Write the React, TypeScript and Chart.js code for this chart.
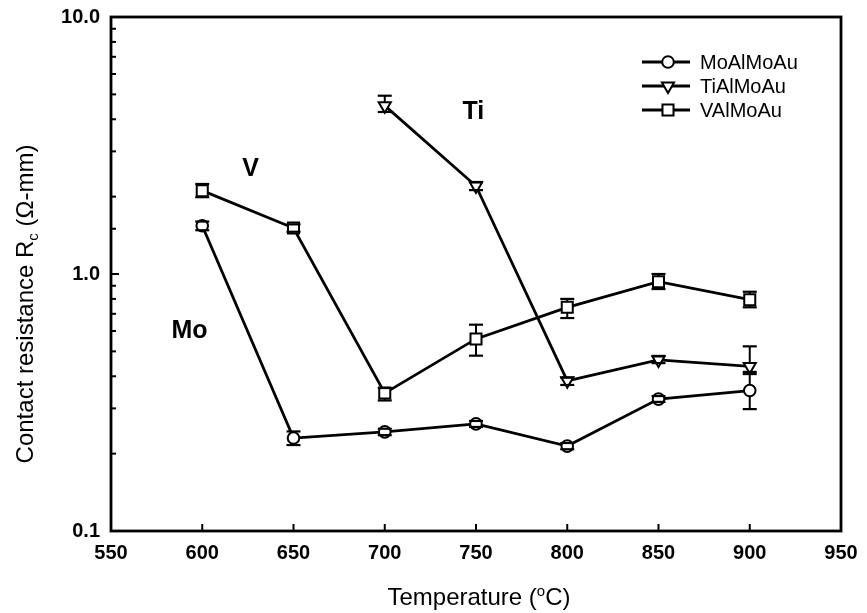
import React, { useEffect, useRef } from 'react';
import { Chart, registerables } from 'chart.js';

Chart.register(...registerables);

// ---- data ----
const TEMPS = [600, 650, 700, 750, 800, 850, 900];
const SERIES_NAMES = ['MoAlMoAu', 'TiAlMoAu', 'VAlMoAu'];

const MO = [1.54, 0.23, 0.243, 0.261, 0.214, 0.326, 0.352];
const MO_HI = [1.6, 0.244, 0.25, 0.268, 0.22, 0.335, 0.416];
const MO_LO = [1.48, 0.216, 0.236, 0.254, 0.208, 0.318, 0.298];

const TI = [null, null, 4.52, 2.2, 0.384, 0.463, 0.437];
const TI_HI = [null, null, 4.94, 2.28, 0.395, 0.48, 0.523];
const TI_LO = [null, null, 4.27, 2.12, 0.37, 0.45, 0.408];

const V = [2.11, 1.51, 0.344, 0.559, 0.742, 0.933, 0.794];
const V_HI = [2.24, 1.56, 0.36, 0.635, 0.8, 1.0, 0.853];
const V_LO = [1.99, 1.46, 0.322, 0.481, 0.674, 0.874, 0.742];

const X_MIN = 550;
const X_MAX = 950;
const X_STEP = 50;
const Y_MIN = 0.1;
const Y_MAX = 10;

const X_TITLE = ['Temperature (', 'o', 'C)'];
const Y_TITLE = ['Contact resistance R', 'c', ' (Ω-mm)'];

const ANNOTATION_TEXT = ['Mo', 'V', 'Ti'];
const ANNOTATION_X = [593, 626.5, 748.5];
const ANNOTATION_Y = [0.6, 2.56, 4.27];

const FONT = '"Liberation Sans", Arial, Helvetica, sans-serif';

type Pt = { x: number; y: number };
const toPoints = (vals: (number | null)[]): Pt[] =>
  TEMPS.map((t, i) => (vals[i] == null ? null : { x: t, y: vals[i] as number })).filter(
    (p): p is Pt => p !== null
  );

const ERRORS: [(number | null)[], (number | null)[], (number | null)[]][] = [
  [MO, MO_LO, MO_HI],
  [TI, TI_LO, TI_HI],
  [V, V_LO, V_HI],
];

const MARKERS = ['circle', 'triangle', 'rect'];

function drawMarker(ctx: CanvasRenderingContext2D, kind: string, x: number, y: number) {
  ctx.save();
  ctx.fillStyle = '#fff';
  ctx.strokeStyle = '#000';
  ctx.lineWidth = 2;
  ctx.beginPath();
  if (kind === 'circle') {
    ctx.arc(x, y, 5.8, 0, Math.PI * 2);
  } else if (kind === 'triangle') {
    const r = 7;
    for (let k = 0; k < 3; k++) {
      const a = Math.PI + (k * 2 * Math.PI) / 3;
      const px = x + Math.sin(a) * r;
      const py = y - Math.cos(a) * r;
      if (k === 0) ctx.moveTo(px, py);
      else ctx.lineTo(px, py);
    }
    ctx.closePath();
  } else {
    const s = 7.8 * Math.SQRT1_2;
    ctx.rect(x - s, y - s, 2 * s, 2 * s);
  }
  ctx.fill();
  ctx.stroke();
  ctx.restore();
}

const framePlugin = {
  id: 'framePlugin',
  beforeDatasetsDraw(chart: any) {
    const ctx: CanvasRenderingContext2D = chart.ctx;
    const xs = chart.scales.x;
    const ys = chart.scales.y;
    ctx.save();
    ctx.strokeStyle = '#000';
    ctx.lineWidth = 2;
    ERRORS.forEach(([vals, lo, hi]) => {
      TEMPS.forEach((t, i) => {
        if (vals[i] == null) return;
        const px = xs.getPixelForValue(t);
        ctx.beginPath();
        ctx.moveTo(px, ys.getPixelForValue(hi[i] as number));
        ctx.lineTo(px, ys.getPixelForValue(lo[i] as number));
        ctx.stroke();
      });
    });
    ctx.restore();
  },
  afterDatasetsDraw(chart: any) {
    const ctx: CanvasRenderingContext2D = chart.ctx;
    const xs = chart.scales.x;
    const ys = chart.scales.y;
    const area = chart.chartArea;

    // error caps
    ctx.save();
    ctx.strokeStyle = '#000';
    ctx.lineWidth = 2.2;
    ERRORS.forEach(([vals, lo, hi]) => {
      TEMPS.forEach((t, i) => {
        if (vals[i] == null) return;
        const px = xs.getPixelForValue(t);
        [hi[i], lo[i]].forEach((v) => {
          const py = ys.getPixelForValue(v as number);
          ctx.beginPath();
          ctx.moveTo(px - 7, py);
          ctx.lineTo(px + 7, py);
          ctx.stroke();
        });
      });
    });
    ctx.restore();

    // frame
    ctx.save();
    ctx.strokeStyle = '#000';
    ctx.lineWidth = 2.8;
    ctx.strokeRect(area.left, area.top, area.right - area.left, area.bottom - area.top);

    // x ticks (inward)
    ctx.lineWidth = 2;
    xs.ticks.forEach((tk: any) => {
      const px = xs.getPixelForValue(tk.value);
      ctx.beginPath();
      ctx.moveTo(px, area.bottom);
      ctx.lineTo(px, area.bottom - 7);
      ctx.stroke();
    });
    // y ticks (inward)
    ys.ticks.forEach((tk: any) => {
      const py = ys.getPixelForValue(tk.value);
      const l = Math.log10(tk.value);
      const major = Math.abs(l - Math.round(l)) < 1e-6;
      ctx.beginPath();
      ctx.moveTo(area.left, py);
      ctx.lineTo(area.left + (major ? 8 : 5), py);
      ctx.stroke();
    });
    ctx.restore();

    // legend
    ctx.save();
    const lx0 = area.right - 199;
    const lx1 = area.right - 151;
    const lmx = area.right - 173;
    const ltx = area.right - 141;
    SERIES_NAMES.forEach((name, i) => {
      const y = area.top + 45 + i * 24;
      ctx.strokeStyle = '#000';
      ctx.lineWidth = 2.8;
      ctx.beginPath();
      ctx.moveTo(lx0, y);
      ctx.lineTo(lx1, y);
      ctx.stroke();
      drawMarker(ctx, MARKERS[i], lmx, y);
      ctx.fillStyle = '#000';
      ctx.font = `20px ${FONT}`;
      ctx.textAlign = 'left';
      ctx.textBaseline = 'middle';
      ctx.fillText(name, ltx, y + 1);
    });
    ctx.restore();

    // annotations
    ctx.save();
    ctx.fillStyle = '#000';
    ctx.font = `bold 25px ${FONT}`;
    ctx.textAlign = 'center';
    ctx.textBaseline = 'middle';
    ANNOTATION_TEXT.forEach((txt, i) => {
      ctx.fillText(txt, xs.getPixelForValue(ANNOTATION_X[i]), ys.getPixelForValue(ANNOTATION_Y[i]));
    });
    ctx.restore();

    // x title with superscript
    ctx.save();
    ctx.fillStyle = '#000';
    ctx.textBaseline = 'alphabetic';
    ctx.textAlign = 'left';
    const big = `24px ${FONT}`;
    const small = `15px ${FONT}`;
    ctx.font = big;
    const w0 = ctx.measureText(X_TITLE[0]).width;
    const w2 = ctx.measureText(X_TITLE[2]).width;
    ctx.font = small;
    const w1 = ctx.measureText(X_TITLE[1]).width;
    const total = w0 + w1 + w2;
    const cx = (area.left + area.right) / 2 + 3;
    let x = cx - total / 2;
    const by = area.bottom + 74;
    ctx.font = big;
    ctx.fillText(X_TITLE[0], x, by);
    x += w0;
    ctx.font = small;
    ctx.fillText(X_TITLE[1], x, by - 9);
    x += w1;
    ctx.font = big;
    ctx.fillText(X_TITLE[2], x, by);
    ctx.restore();

    // y title with subscript (rotated)
    ctx.save();
    ctx.fillStyle = '#000';
    ctx.translate(33, (area.top + area.bottom) / 2 + 30);
    ctx.rotate(-Math.PI / 2);
    ctx.textBaseline = 'alphabetic';
    ctx.textAlign = 'left';
    ctx.font = big;
    const v0 = ctx.measureText(Y_TITLE[0]).width;
    const v2 = ctx.measureText(Y_TITLE[2]).width;
    ctx.font = small;
    const v1 = ctx.measureText(Y_TITLE[1]).width;
    let yx = -(v0 + v1 + v2) / 2;
    ctx.font = big;
    ctx.fillText(Y_TITLE[0], yx, 0);
    yx += v0;
    ctx.font = small;
    ctx.fillText(Y_TITLE[1], yx, 5);
    yx += v1;
    ctx.font = big;
    ctx.fillText(Y_TITLE[2], yx, 0);
    ctx.restore();
  },
};

export default function App() {
  const ref = useRef<HTMLCanvasElement>(null);
  useEffect(() => {
    document.body.style.margin = '0';
    const canvas = ref.current;
    if (!canvas) return;
    const lineStyle = {
      borderColor: '#000',
      borderWidth: 2.8,
      pointBackgroundColor: '#fff',
      pointBorderColor: '#000',
      pointBorderWidth: 2,
      tension: 0,
      fill: false,
    };
    const chart = new Chart(canvas, {
      type: 'line',
      data: {
        datasets: [
          { ...lineStyle, label: SERIES_NAMES[0], data: toPoints(MO), pointStyle: 'circle', pointRadius: 5.8 },
          { ...lineStyle, label: SERIES_NAMES[1], data: toPoints(TI), pointStyle: 'triangle', pointRotation: 180, pointRadius: 7 },
          { ...lineStyle, label: SERIES_NAMES[2], data: toPoints(V), pointStyle: 'rect', pointRadius: 7.8 },
        ] as any,
      },
      options: {
        responsive: false,
        animation: false,
        maintainAspectRatio: false,
        layout: { padding: { top: 17, right: 26, left: 0, bottom: 0 } },
        plugins: { legend: { display: false }, tooltip: { enabled: false }, title: { display: false } },
        scales: {
          x: {
            type: 'linear',
            min: X_MIN,
            max: X_MAX,
            grid: { display: false, drawTicks: false },
            border: { display: false },
            ticks: {
              stepSize: X_STEP,
              autoSkip: false,
              maxRotation: 0,
              padding: 10,
              color: '#000',
              font: { family: FONT, size: 20, weight: 'bold' },
              callback: (v: any) => String(v),
            },
            afterFit: (s: any) => {
              s.height = 82;
              s.paddingLeft = 0;
              s.paddingRight = 0;
            },
          },
          y: {
            type: 'logarithmic',
            min: Y_MIN,
            max: Y_MAX,
            grid: { display: false, drawTicks: false },
            border: { display: false },
            ticks: {
              autoSkip: false,
              padding: 11,
              color: '#000',
              font: { family: FONT, size: 20, weight: 'bold' },
              callback: (v: any) => {
                const l = Math.log10(v);
                return Math.abs(l - Math.round(l)) < 1e-6 ? Number(v).toFixed(1) : '';
              },
            },
            afterFit: (s: any) => {
              s.width = 111;
              s.paddingTop = 0;
              s.paddingBottom = 0;
            },
          },
        },
      } as any,
      plugins: [framePlugin],
    });
    return () => chart.destroy();
  }, []);
  return <canvas ref={ref} width={867} height={613} style={{ display: 'block' }} />;
}
